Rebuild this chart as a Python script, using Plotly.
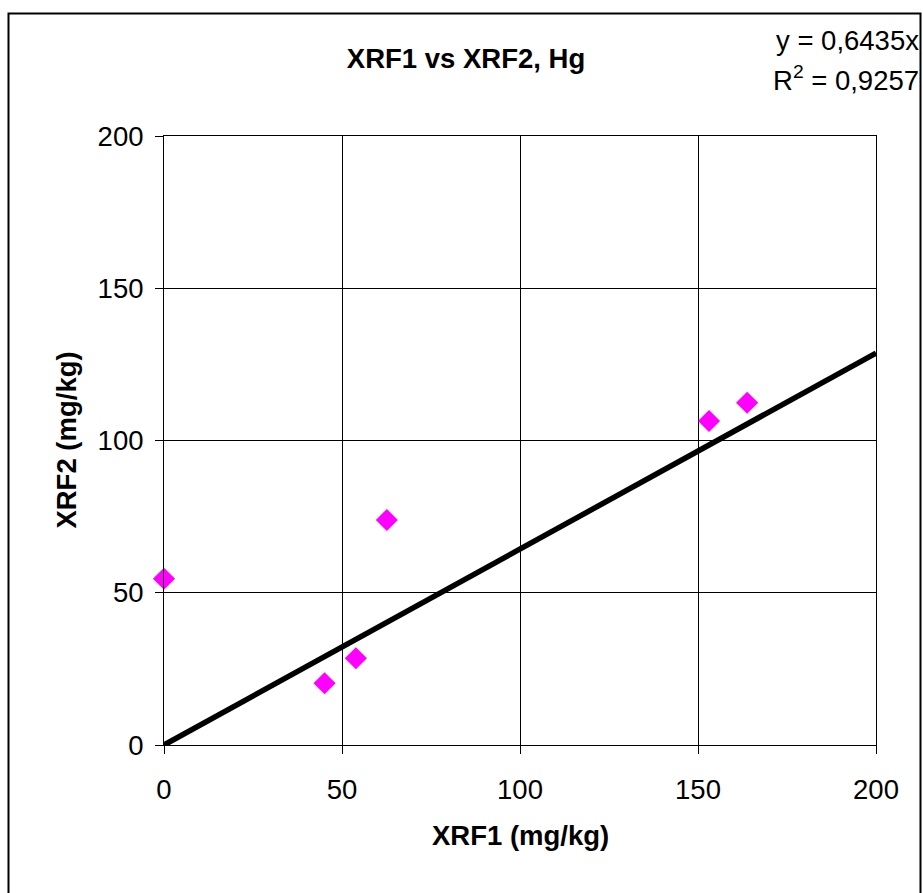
import plotly.graph_objects as go

# Paired mercury readings from the two XRF instruments (mg/kg)
xrf1 = [0.0, 45.1, 53.9, 62.6, 153.1, 163.8]
xrf2 = [54.6, 20.3, 28.5, 73.9, 106.4, 112.4]

# Linear fit through the origin
slope = 0.6435
r_squared = 0.9257
fit_x = [0, 200]
fit_y = [slope * v for v in fit_x]

axis_ticks = [0, 50, 100, 150, 200]

FONT = "Liberation Sans, Arial, sans-serif"
SIZE = 27.5

fig = go.Figure()

fig.add_trace(go.Scatter(
    x=fit_x, y=fit_y, mode="lines",
    line=dict(color="black", width=5.5),
    showlegend=False, hoverinfo="skip",
))

fig.add_trace(go.Scatter(
    x=xrf1, y=xrf2, mode="markers",
    marker=dict(symbol="diamond", size=17, color="#FF00FF", line=dict(width=0)),
    showlegend=False, cliponaxis=False,
))

axis_common = dict(
    range=[0, 200],
    tickvals=axis_ticks,
    ticktext=[str(t) for t in axis_ticks],
    showgrid=True, gridcolor="black", gridwidth=1,
    showline=True, linecolor="black", linewidth=1, mirror=True,
    ticks="outside", ticklen=8, tickcolor="black", tickwidth=1,
    zeroline=False,
    tickfont=dict(family=FONT, size=SIZE, color="black"),
)

fig.update_layout(
    width=923, height=893,
    margin=dict(l=164, r=47, t=136, b=148),
    paper_bgcolor="white", plot_bgcolor="white",
    xaxis=dict(**axis_common, ticklabelstandoff=12),
    yaxis=dict(**axis_common, ticklabelstandoff=6),
    title=dict(
        text="<b>XRF1 vs XRF2, Hg</b>",
        font=dict(family=FONT, size=SIZE, color="black"),
        x=466 / 923, xref="container", xanchor="center",
        y=1 - 58 / 893, yref="container", yanchor="middle",
    ),
    font=dict(family=FONT, color="black"),
)

annotations = [
    dict(text="<b>XRF1 (mg/kg)</b>", x=0.5, y=-0.1478,
         xanchor="center", yanchor="middle"),
    dict(text="<b>XRF2 (mg/kg)</b>", x=-0.1375, y=0.5, textangle=-90,
         xanchor="center", yanchor="middle"),
    dict(text=f"y = {slope:.4f}x".replace(".", ","), x=1.0632, y=1.1576,
         xanchor="right", yanchor="middle"),
    dict(text=f"R<sup>2</sup> = {r_squared:.4f}".replace(".", ","), x=1.0632, y=1.094,
         xanchor="right", yanchor="middle"),
]
for a in annotations:
    fig.add_annotation(xref="paper", yref="paper", showarrow=False,
                       font=dict(family=FONT, size=SIZE, color="black"), **a)

# Outer chart frame
fig.add_shape(type="rect", xref="paper", yref="paper",
              x0=-0.2184, x1=1.0625, y0=-0.26, y1=1.2011,
              line=dict(color="black", width=2), layer="above")

fig.write_html("out.html")
